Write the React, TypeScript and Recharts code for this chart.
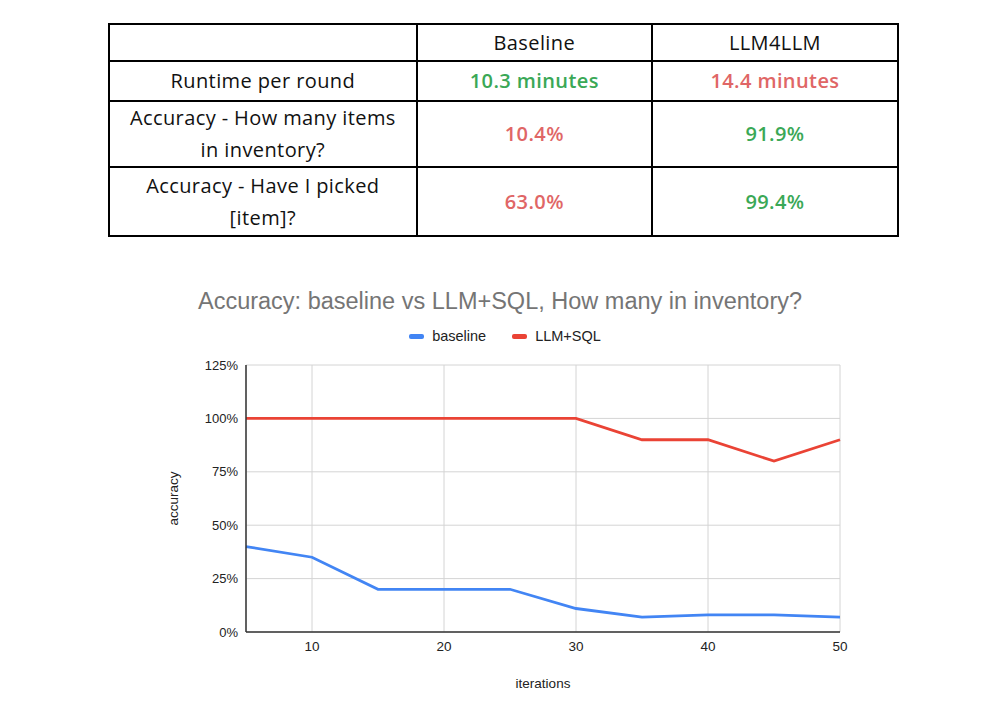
import { CartesianGrid, Label, Line, LineChart, XAxis, YAxis } from 'recharts'

const iterations = [5, 10, 15, 20, 25, 30, 35, 40, 45, 50]
const baseline = [40, 35, 20, 20, 20, 11, 7, 8, 8, 7]
const llmSql = [100, 100, 100, 100, 100, 100, 90, 90, 80, 90]
const xTicks = [10, 20, 30, 40, 50]
const yTicks = [0, 25, 50, 75, 100, 125]

const tableHeader = ['', 'Baseline', 'LLM4LLM']
const tableRows = [
  { label: ['Runtime per round'], baseline: '10.3 minutes', llm: '14.4 minutes', baseGood: true },
  { label: ['Accuracy - How many items', 'in inventory?'], baseline: '10.4%', llm: '91.9%', baseGood: false },
  { label: ['Accuracy - Have I picked', '[item]?'], baseline: '63.0%', llm: '99.4%', baseGood: false },
]

const green = '#3aa856'
const red = '#e06666'

const data = iterations.map((it, i) => ({ iter: it, baseline: baseline[i], llm: llmSql[i] }))

const cell: React.CSSProperties = {
  border: '2px solid #000',
  textAlign: 'center',
  verticalAlign: 'middle',
  padding: 0,
  lineHeight: '32px',
  whiteSpace: 'nowrap',
}

function ResultsTable() {
  const rowHeights = [37, 40, 66, 69]
  return (
    <table
      style={{
        position: 'absolute',
        left: 108,
        top: 23,
        width: 791,
        borderCollapse: 'collapse',
        fontFamily: '"Open Sans", Lato, sans-serif',
        fontSize: 20,
        letterSpacing: 0.4,
        color: '#111',
      }}
    >
      <colgroup>
        <col style={{ width: 308 }} />
        <col style={{ width: 236 }} />
        <col style={{ width: 247 }} />
      </colgroup>
      <tbody>
        <tr style={{ height: rowHeights[0] }}>
          {tableHeader.map((h, i) => (
            <td key={i} style={cell}>{h}</td>
          ))}
        </tr>
        {tableRows.map((r, i) => (
          <tr key={r.label[0]} style={{ height: rowHeights[i + 1] }}>
            <td style={cell}>
              {r.label.map((line, j) => (
                <div key={j}>{line}</div>
              ))}
            </td>
            <td style={{ ...cell, fontWeight: 600, color: r.baseGood ? green : red }}>{r.baseline}</td>
            <td style={{ ...cell, fontWeight: 600, color: r.baseGood ? red : green }}>{r.llm}</td>
          </tr>
        ))}
      </tbody>
    </table>
  )
}

export default function App() {
  const font = '"Liberation Sans", Arial, sans-serif'
  return (
    <div style={{ position: 'absolute', left: 0, top: 0, width: 1000, height: 715, background: '#fff' }}>
      <ResultsTable />
      <div
        style={{
          position: 'absolute',
          left: 0,
          width: 1000,
          top: 288,
          textAlign: 'center',
          fontFamily: font,
          fontSize: 23.5,
          color: '#757575',
          paddingRight: 4,
        }}
      >
        Accuracy: baseline vs LLM+SQL, How many in inventory?
      </div>
      <div
        style={{
          position: 'absolute',
          left: 0,
          width: 1000,
          top: 328,
          display: 'flex',
          justifyContent: 'center',
          gap: 26,
          fontFamily: font,
          fontSize: 14.5,
          color: '#222',
          paddingLeft: 10,
          boxSizing: 'border-box',
        }}
      >
        {[
          { name: 'baseline', color: '#4285f4' },
          { name: 'LLM+SQL', color: '#ea4335' },
        ].map((l) => (
          <span key={l.name} style={{ display: 'flex', alignItems: 'center', gap: 8 }}>
            <span style={{ width: 15, height: 5, borderRadius: 2, background: l.color, display: 'inline-block' }} />
            {l.name}
          </span>
        ))}
      </div>
      <div style={{ position: 'absolute', left: 0, top: 260 }}>
        <LineChart
          width={1000}
          height={455}
          data={data}
          margin={{ top: 105, right: 160, bottom: 23, left: 160 }}
          style={{ fontFamily: font }}
        >
          <CartesianGrid stroke="#d4d4d4" strokeWidth={1} />
          <XAxis
            dataKey="iter"
            type="number"
            domain={[5, 50]}
            ticks={xTicks}
            height={60}
            tickSize={0}
            tickMargin={9}
            axisLine={{ stroke: '#333', strokeWidth: 1.5 }}
            tick={{ fill: '#222', fontSize: 13.5 }}
          >
            <Label value="iterations" position="center" dy={21} fill="#222" fontSize={13.5} />
          </XAxis>
          <YAxis
            type="number"
            domain={[0, 125]}
            ticks={yTicks}
            width={86}
            tickSize={0}
            tickMargin={8}
            tickFormatter={(v) => `${v}%`}
            axisLine={{ stroke: '#333', strokeWidth: 1.5 }}
            tick={{ fill: '#222', fontSize: 13 }}
          >
            <Label value="accuracy" position="center" angle={-90} dx={-30} fill="#222" fontSize={13.5} />
          </YAxis>
          <Line
            type="linear"
            dataKey="baseline"
            stroke="#4285f4"
            strokeWidth={2.8}
            dot={false}
            isAnimationActive={false}
          />
          <Line
            type="linear"
            dataKey="llm"
            stroke="#ea4335"
            strokeWidth={2.8}
            dot={false}
            isAnimationActive={false}
          />
        </LineChart>
      </div>
    </div>
  )
}
